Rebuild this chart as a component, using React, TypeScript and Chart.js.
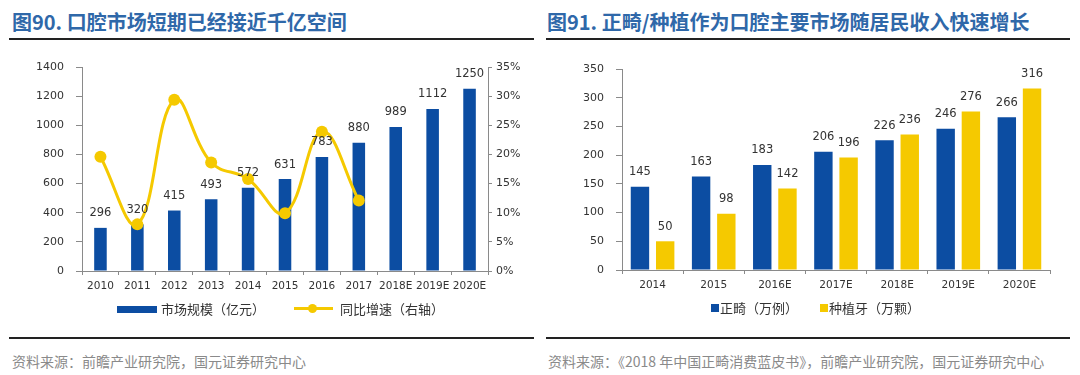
import React, { useEffect, useRef } from "react";
import { Chart, registerables } from "chart.js";

Chart.register(...registerables);

// ---------- Data: Figure 90 ----------
const marketYears = ["2010", "2011", "2012", "2013", "2014", "2015", "2016", "2017", "2018E", "2019E", "2020E"];
const marketSize = [296, 320, 415, 493, 572, 631, 783, 880, 989, 1112, 1250];
const marketGrowth = [19.6, 8.0, 29.4, 18.6, 15.8, 9.9, 23.9, 12.1, null, null, null];
const sizeAxisMax = 1400;
const sizeAxisStep = 200;
const growthAxisMax = 35;
const growthAxisStep = 5;

// ---------- Data: Figure 91 ----------
const orthoYears = ["2014", "2015", "2016E", "2017E", "2018E", "2019E", "2020E"];
const orthoCases = [145, 163, 183, 206, 226, 246, 266];
const implantTeeth = [50, 98, 142, 196, 236, 276, 316];
const countAxisMax = 350;
const countAxisStep = 50;

// ---------- Text ----------
const title90 = "图90. 口腔市场短期已经接近千亿空间";
const title91 = "图91. 正畸/种植作为口腔主要市场随居民收入快速增长";
const legendSize = "市场规模（亿元）";
const legendGrowth = "同比增速（右轴）";
const legendOrtho = "正畸（万例）";
const legendImplant = "种植牙（万颗）";
const source90 = "资料来源：前瞻产业研究院，国元证券研究中心";
const source91 = "资料来源：《2018 年中国正畸消费蓝皮书》，前瞻产业研究院，国元证券研究中心";

const BLUE = "#0C4DA2";
const YELLOW = "#F5C900";
const AXIS = "#8a8a8a";
const TEXT = "#333333";
const TITLE = "#2F68A9";
const NUM_FONT = "DejaVu Sans";
const CJK = "'Noto Sans CJK SC', 'Noto Sans', sans-serif";

const barLabelPlugin = {
  id: "barLabels",
  afterDatasetsDraw(chart: any, _args: any, opts: any) {
    const ctx = chart.ctx;
    ctx.save();
    ctx.font = opts.font;
    ctx.fillStyle = opts.color;
    ctx.textAlign = "center";
    ctx.textBaseline = "alphabetic";
    chart.data.datasets.forEach((ds: any, i: number) => {
      if (ds.type === "line") return;
      const meta = chart.getDatasetMeta(i);
      meta.data.forEach((el: any, j: number) => {
        const v = ds.data[j];
        if (v == null) return;
        ctx.fillText(String(v), el.x, el.y - opts.gap);
      });
    });
    ctx.restore();
  },
};

function MarketChart() {
  const ref = useRef<HTMLCanvasElement>(null);
  useEffect(() => {
    const chart = new Chart(ref.current as HTMLCanvasElement, {
      type: "bar",
      data: {
        labels: marketYears,
        datasets: [
          {
            type: "line",
            label: legendGrowth,
            data: marketGrowth,
            yAxisID: "y1",
            borderColor: YELLOW,
            backgroundColor: YELLOW,
            borderWidth: 3,
            pointRadius: 6,
            pointBackgroundColor: YELLOW,
            pointBorderWidth: 0,
            tension: 0.4,
            order: 0,
          } as any,
          {
            type: "bar",
            label: legendSize,
            data: marketSize,
            yAxisID: "y",
            backgroundColor: BLUE,
            barPercentage: 0.34,
            categoryPercentage: 1.0,
            order: 1,
          },
        ],
      },
      options: {
        animation: false,
        responsive: false,
        devicePixelRatio: 1,
        layout: { padding: { top: 67, bottom: 9, left: 0, right: 12 } },
        plugins: {
          legend: { display: false },
          tooltip: { enabled: false },
          barLabels: { font: `11.5px '${NUM_FONT}'`, color: TEXT, gap: 11.5 },
        } as any,
        scales: {
          x: {
            grid: { display: true, drawOnChartArea: false, tickLength: 4, color: AXIS, offset: true },
            border: { color: AXIS },
            ticks: { font: { family: NUM_FONT, size: 10.5 }, color: TEXT, padding: 5, maxRotation: 0, autoSkip: false },
            afterFit: (s: any) => { s.height = 20; },
          },
          y: {
            position: "left",
            min: 0,
            max: sizeAxisMax,
            ticks: {
              stepSize: sizeAxisStep,
              font: { family: NUM_FONT, size: 11 },
              color: TEXT,
              padding: 12,
              callback: (v: any) => String(v),
            },
            grid: { drawOnChartArea: false, tickLength: 6, color: AXIS },
            border: { color: AXIS },
            afterFit: (s: any) => { s.width = 82; },
          },
          y1: {
            position: "right",
            min: 0,
            max: growthAxisMax,
            ticks: {
              stepSize: growthAxisStep,
              font: { family: NUM_FONT, size: 11 },
              color: TEXT,
              padding: 4,
              callback: (v: any) => `${v}%`,
            },
            grid: { drawOnChartArea: false, tickLength: 4, color: AXIS },
            border: { color: AXIS },
            afterFit: (s: any) => { s.width = 40; },
          },
        },
      },
      plugins: [barLabelPlugin as any],
    });
    return () => chart.destroy();
  }, []);
  return <canvas ref={ref} width={540} height={300} style={{ position: "absolute", left: 0, top: 0, width: 540, height: 300 }} />;
}

function OrthoChart() {
  const ref = useRef<HTMLCanvasElement>(null);
  useEffect(() => {
    const chart = new Chart(ref.current as HTMLCanvasElement, {
      type: "bar",
      data: {
        labels: orthoYears,
        datasets: [
          { label: legendOrtho, data: orthoCases, backgroundColor: BLUE, barPercentage: 0.73, categoryPercentage: 0.825 },
          { label: legendImplant, data: implantTeeth, backgroundColor: YELLOW, barPercentage: 0.73, categoryPercentage: 0.825 },
        ],
      },
      options: {
        animation: false,
        responsive: false,
        devicePixelRatio: 1,
        layout: { padding: { top: 69, bottom: 10, left: 0, right: 30 } },
        plugins: {
          legend: { display: false },
          tooltip: { enabled: false },
          barLabels: { font: `11.5px '${NUM_FONT}'`, color: TEXT, gap: 11.5 },
        } as any,
        scales: {
          x: {
            grid: { display: true, drawOnChartArea: false, tickLength: 4, color: AXIS, offset: true },
            border: { color: AXIS },
            ticks: { font: { family: NUM_FONT, size: 10.5 }, color: TEXT, padding: 5, maxRotation: 0, autoSkip: false },
            afterFit: (s: any) => { s.height = 20; },
          },
          y: {
            min: 0,
            max: countAxisMax,
            ticks: {
              stepSize: countAxisStep,
              font: { family: NUM_FONT, size: 11 },
              color: TEXT,
              padding: 12,
              callback: (v: any) => String(v),
            },
            grid: { drawOnChartArea: false, tickLength: 6, color: AXIS },
            border: { color: AXIS },
            afterFit: (s: any) => { s.width = 82; },
          },
        },
      },
      plugins: [barLabelPlugin as any],
    });
    return () => chart.destroy();
  }, []);
  return <canvas ref={ref} width={540} height={300} style={{ position: "absolute", left: 540, top: 0, width: 540, height: 300 }} />;
}

const abs = (s: React.CSSProperties): React.CSSProperties => ({ position: "absolute", ...s });

export default function App() {
  const titleStyle: React.CSSProperties = {
    fontFamily: CJK,
    fontWeight: 700,
    fontSize: 20,
    lineHeight: "24px",
    color: TITLE,
    whiteSpace: "nowrap",
  };
  const legendText: React.CSSProperties = {
    fontFamily: CJK,
    fontSize: 13,
    lineHeight: "16px",
    color: TEXT,
    whiteSpace: "nowrap",
  };
  const sourceText: React.CSSProperties = {
    fontFamily: CJK,
    fontSize: 14,
    lineHeight: "18px",
    color: "#8a8a8a",
    whiteSpace: "nowrap",
  };
  return (
    <div style={{ position: "absolute", left: 0, top: 0, width: 1080, height: 375, background: "#fff", overflow: "hidden" }}>
      <div style={abs({ left: 12, top: 10, ...titleStyle })}>{title90}</div>
      <div style={abs({ left: 547, top: 10, ...titleStyle })}>{title91}</div>
      <div style={abs({ left: 9, top: 37.5, width: 525, height: 2, background: "#222" })} />
      <div style={abs({ left: 546, top: 37.5, width: 524, height: 2, background: "#222" })} />

      <MarketChart />
      <OrthoChart />

      {/* legend 90 */}
      <div style={abs({ left: 117, top: 305.5, width: 40, height: 7, background: BLUE })} />
      <div style={abs({ left: 161, top: 301, ...legendText })}>{legendSize}</div>
      <div style={abs({ left: 294, top: 307, width: 39, height: 3, background: YELLOW })} />
      <div style={abs({ left: 307.5, top: 304, width: 9, height: 9, borderRadius: "50%", background: YELLOW })} />
      <div style={abs({ left: 340, top: 301, ...legendText })}>{legendGrowth}</div>

      {/* legend 91 */}
      <div style={abs({ left: 711, top: 304, width: 8, height: 8, background: BLUE })} />
      <div style={abs({ left: 720, top: 300, ...legendText })}>{legendOrtho}</div>
      <div style={abs({ left: 820, top: 304, width: 8, height: 8, background: YELLOW })} />
      <div style={abs({ left: 829, top: 300, ...legendText })}>{legendImplant}</div>

      <div style={abs({ left: 9, top: 336.5, width: 525, height: 2, background: "#222" })} />
      <div style={abs({ left: 546, top: 336.5, width: 524, height: 2, background: "#222" })} />
      <div style={abs({ left: 12, top: 352, ...sourceText })}>{source90}</div>
      <div style={abs({ left: 548, top: 352, ...sourceText })}>{source91}</div>
    </div>
  );
}
